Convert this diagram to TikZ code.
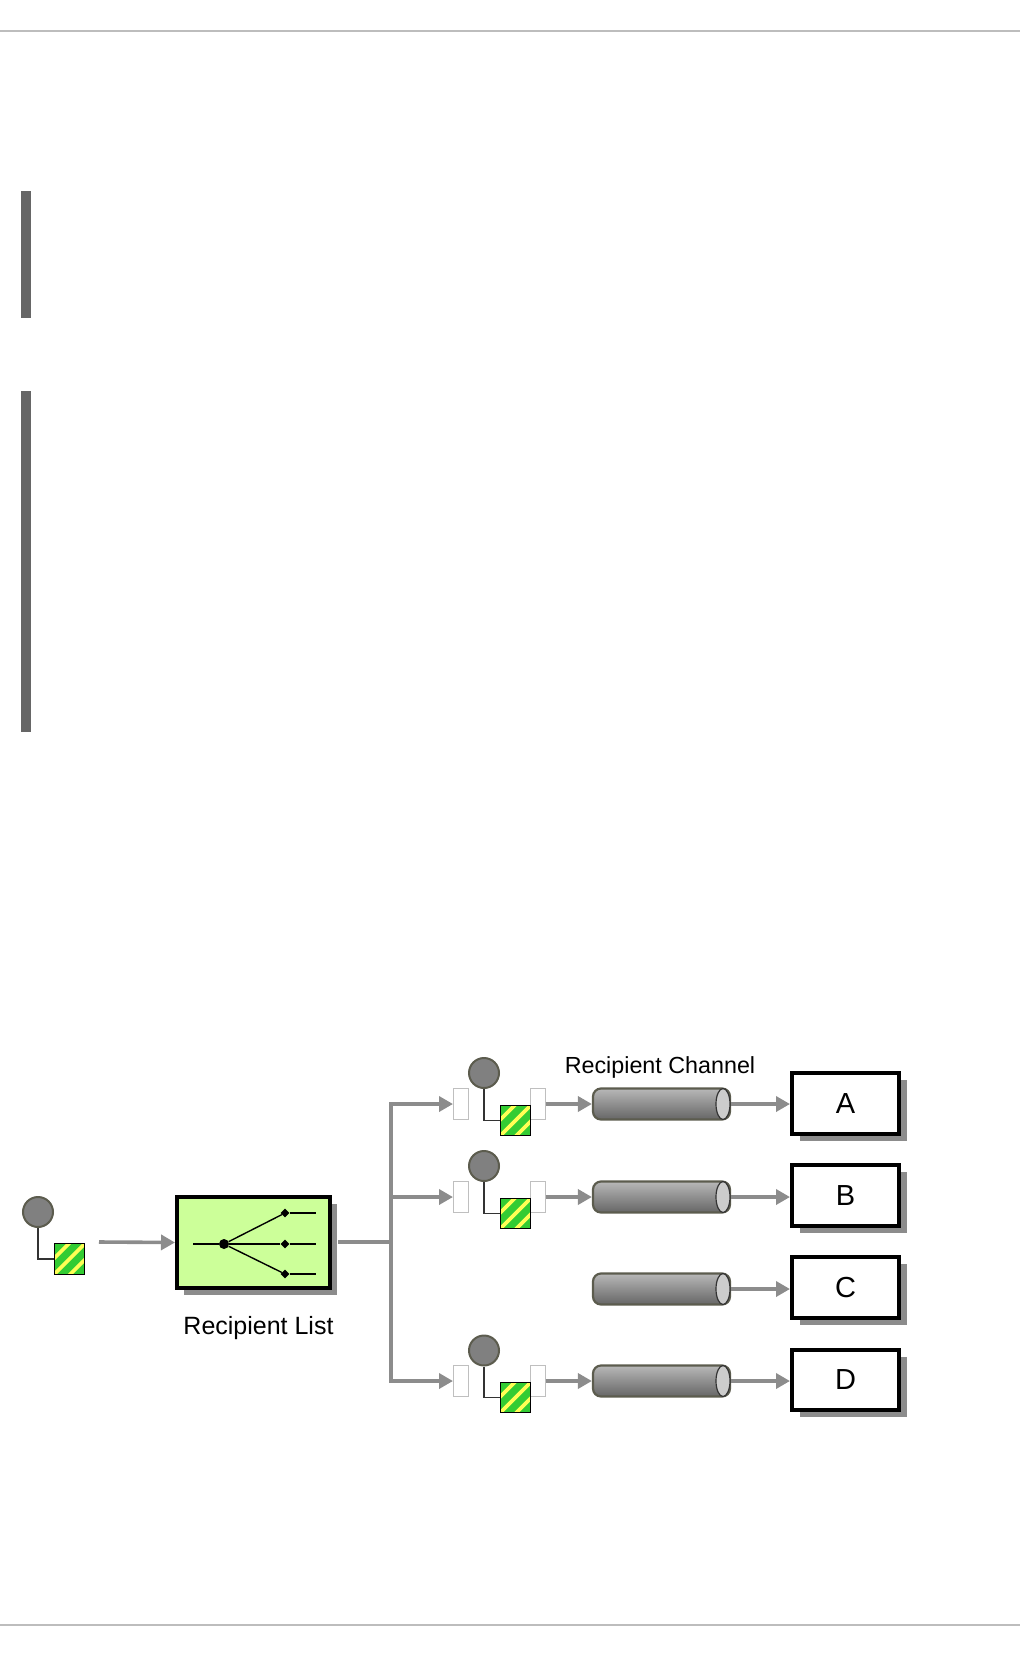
\documentclass[tikz,border=0pt]{standalone}
\usepackage{fontspec}
\setmainfont{Liberation Sans}
\usetikzlibrary{arrows.meta,shadows,shapes.geometric}
\definecolor{rulegray}{HTML}{BDBDBD}
\definecolor{bargray}{HTML}{666666}
\definecolor{flowgray}{HTML}{8C8C8C}
\definecolor{listgreen}{HTML}{CCFF99}
\definecolor{msggreen}{HTML}{33CC33}
\definecolor{msgyellow}{HTML}{FFFF55}
\definecolor{rimgray}{HTML}{5C5C4E}
\tikzset{
  pagerule/.style={rulegray, line width=1.5pt},
  sidebar/.style={fill=bargray},
  flow/.style={flowgray, line width=3.6pt, -{Triangle[length=14pt,width=15pt]}},
  flowplain/.style={flowgray, line width=3.6pt},
  wire/.style={black!80, line width=1.6pt},
  fanline/.style={black, line width=1.4pt},
  routerbox/.style={rectangle, draw=black, line width=4pt, fill=listgreen, minimum width=153pt, minimum height=91pt, inner sep=0pt, drop shadow={shadow xshift=7pt, shadow yshift=-7pt, opacity=1, fill=flowgray}},
  endbox/.style={rectangle, draw=black, line width=4pt, fill=white, minimum width=107pt, minimum height=60.5pt, inner sep=0pt, font=\fontsize{29}{32}\selectfont, drop shadow={shadow xshift=8pt, shadow yshift=-7pt, opacity=1, fill=flowgray}},
  header/.style={circle, draw=rimgray, line width=2pt, fill=black!50, minimum size=30pt, inner sep=0pt},
  payload/.style={rectangle, draw=black, line width=1.3pt, fill=msggreen, minimum size=30.5pt, inner sep=0pt, path picture={
    \draw[msgyellow, line width=3.6pt] ([xshift=-20pt,yshift=-4pt]path picture bounding box.center) -- ([xshift=20pt,yshift=36pt]path picture bounding box.center);
    \draw[msgyellow, line width=3.6pt] ([xshift=-20pt,yshift=-20pt]path picture bounding box.center) -- ([xshift=20pt,yshift=20pt]path picture bounding box.center);
    \draw[msgyellow, line width=3.6pt] ([xshift=-20pt,yshift=-36pt]path picture bounding box.center) -- ([xshift=20pt,yshift=4pt]path picture bounding box.center);
  }},
  ghost/.style={rectangle, draw=black!25, line width=1pt, fill=white, minimum width=15pt, minimum height=31pt, inner sep=0pt},
  chanbody/.style={rectangle, rounded corners=8pt, draw=rimgray, line width=2.2pt, top color=black!28, bottom color=black!60, minimum width=137pt, minimum height=31pt, inner sep=0pt},
  chanend/.style={ellipse, draw=black!80, line width=1.2pt, fill=black!20, minimum width=14pt, minimum height=31pt, inner sep=0pt},
  fandot/.style={circle, fill=black, minimum size=10pt, inner sep=0pt},
  fantip/.style={diamond, fill=black, minimum size=9pt, inner sep=0pt},
  caption/.style={inner sep=0pt}
}
\begin{document}
\begin{tikzpicture}[x=1pt, y=-1pt]
  \useasboundingbox (0,0) rectangle (1020,1656);
  \draw[pagerule] (0,31) -- (1020,31);
  \draw[pagerule] (0,1625) -- (1020,1625);
  \fill[sidebar] (21,191) rectangle (31,318);
  \fill[sidebar] (21,391) rectangle (31,732);

  \node[header] (srchead) at (38,1212) {};
  \node[payload] (srcbody) at (69.5,1259) {};
  \draw[wire] (srchead) |- (srcbody);
  \coordinate (srcout) at (99,1242);

  \node[routerbox] (list) at (253.5,1242.5) {};
  \node[caption, font=\fontsize{25}{28}\selectfont] (listlabel) at (258.5,1328) {Recipient List};
  \draw[flow] (srcout) -- (list.west);
  \coordinate (fanin) at (193,1244);
  \coordinate (fanouta) at (316,1213);
  \coordinate (fanoutb) at (316,1244);
  \coordinate (fanoutc) at (316,1274);
  \node[fandot] (fan) at (224,1244) {};
  \node[fantip] (tipa) at (285,1213) {};
  \node[fantip] (tipb) at (285,1244) {};
  \node[fantip] (tipc) at (285,1274) {};
  \draw[fanline] (fanin) -- (fan);
  \draw[fanline] (fan) -- (tipa);
  \draw[fanline] (fan) -- (tipb);
  \draw[fanline] (fan) -- (tipc);
  \draw[fanline] (tipa) -- (fanouta);
  \draw[fanline] (tipb) -- (fanoutb);
  \draw[fanline] (tipc) -- (fanoutc);

  \coordinate (listout) at (338,1242);
  \coordinate (joint) at (391,1242);
  \draw[flowplain] (listout) -- (joint);

  \node[ghost] (ina) at (461,1104) {};
  \node[ghost] (outa) at (537.5,1104) {};
  \node[header] (heada) at (484,1073) {};
  \node[payload] (bodya) at (515.5,1120.5) {};
  \draw[wire] (heada) |- (bodya);
  \node[chanbody] (chana) at (661.5,1104) {};
  \node[chanend] (enda) at (723,1104) {};
  \node[endbox] (boxa) at (845.5,1103.5) {A};
  \node[caption, font=\fontsize{23.3}{26}\selectfont] (chanlabel) at (660,1067) {Recipient Channel};
  \draw[flow] (joint) |- (ina);
  \draw[flow] (outa) -- (chana);
  \draw[flow] (enda) -- (boxa.west |- enda);

  \node[ghost] (inb) at (461,1197) {};
  \node[ghost] (outb) at (537.5,1197) {};
  \node[header] (headb) at (484,1166) {};
  \node[payload] (bodyb) at (515.5,1213.5) {};
  \draw[wire] (headb) |- (bodyb);
  \node[chanbody] (chanb) at (661.5,1197) {};
  \node[chanend] (endb) at (723,1197) {};
  \node[endbox] (boxb) at (845.5,1195.5) {B};
  \draw[flow] (joint) |- (inb);
  \draw[flow] (outb) -- (chanb);
  \draw[flow] (endb) -- (boxb.west |- endb);

  \node[chanbody] (chanc) at (661.5,1289) {};
  \node[chanend] (endc) at (723,1289) {};
  \node[endbox] (boxc) at (845.5,1287.5) {C};
  \draw[flow] (endc) -- (boxc.west |- endc);

  \node[ghost] (ind) at (461,1381) {};
  \node[ghost] (outd) at (537.5,1381) {};
  \node[header] (headd) at (484,1350.5) {};
  \node[payload] (bodyd) at (515.5,1397.5) {};
  \draw[wire] (headd) |- (bodyd);
  \node[chanbody] (chand) at (661.5,1381) {};
  \node[chanend] (endd) at (723,1381) {};
  \node[endbox] (boxd) at (845.5,1380) {D};
  \draw[flow] (joint) |- (ind);
  \draw[flow] (outd) -- (chand);
  \draw[flow] (endd) -- (boxd.west |- endd);
\end{tikzpicture}
\end{document}
